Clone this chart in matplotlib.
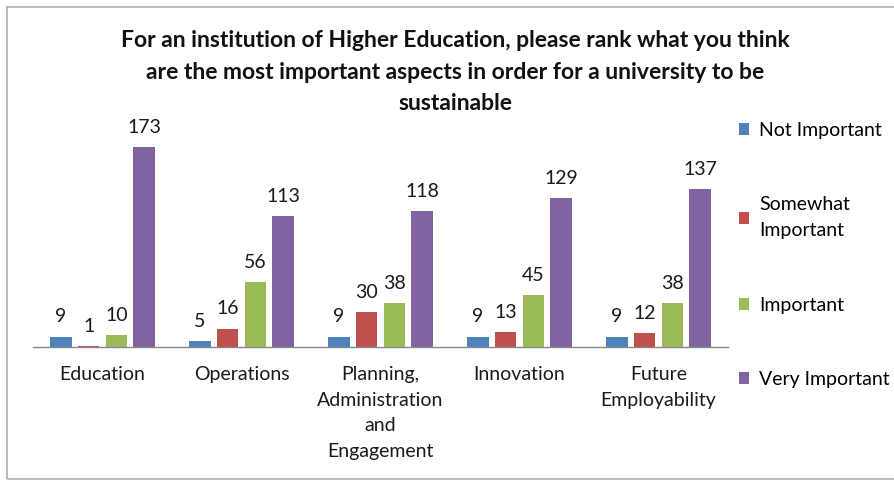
import numpy as np
import matplotlib
matplotlib.use("Agg")
import matplotlib.pyplot as plt
from matplotlib.patches import Patch, Rectangle

plt.rcParams['font.family'] = ['Lato', 'DejaVu Sans']

categories = ["Education", "Operations", "Planning,\nAdministration\nand\nEngagement",
              "Innovation", "Future\nEmployability"]
series_names = ["Not Important", "Somewhat\nImportant", "Important", "Very Important"]
not_important = [9, 5, 9, 9, 9]
somewhat_important = [1, 16, 30, 13, 12]
important = [10, 56, 38, 45, 38]
very_important = [173, 113, 118, 129, 137]
colors = ["#4F81BD", "#C0504D", "#9BBB59", "#8064A2"]

W, H = 895, 482
fig = plt.figure(figsize=(W / 100, H / 100), dpi=100)

# chart frame (gray border, right edge runs off the image)
fig.patches.append(Rectangle((7 / W, 3 / H), 1.0, 472 / H, transform=fig.transFigure,
                             fill=False, edgecolor="#b0b0b0", linewidth=1.2))

ax = fig.add_axes([33 / W, 1 - 347 / H, (728 - 33) / W, 231 / H])

x = np.arange(len(categories))
step = 0.2
width = 0.155
all_series = [not_important, somewhat_important, important, very_important]
for i, (vals, col) in enumerate(zip(all_series, colors)):
    pos = x + (i - 1.5) * step
    bars = ax.bar(pos, vals, width=width, color=col, label=series_names[i])
    for b, v in zip(bars, vals):
        ax.annotate(str(v), (b.get_x() + b.get_width() / 2, v),
                    xytext=(0, 8), textcoords="offset points",
                    ha="center", va="bottom", fontsize=14, color="#1a1a1a")

ax.set_xlim(-0.5, len(categories) - 0.5)
ax.set_ylim(0, 200)
ax.set_xticks(x)
ax.set_xticklabels(categories, fontsize=14, color="#1a1a1a", linespacing=1.6)
ax.tick_params(axis="x", length=0, pad=14)
ax.set_yticks([])
for s in ["top", "right", "left"]:
    ax.spines[s].set_visible(False)
ax.spines["bottom"].set_color("#888888")
ax.spines["bottom"].set_linewidth(1.0)

fig.text(455 / W, 1 - 30 / H,
         "For an institution of Higher Education, please rank what you think\n"
         "are the most important aspects in order for a university to be\n"
         "sustainable",
         ha="center", va="top", fontsize=16.5, fontweight="bold", color="#111111",
         linespacing=1.62)

handles = [Patch(facecolor=c, edgecolor="none") for c in colors]
leg = fig.legend(handles, series_names, loc="upper left",
                 bbox_to_anchor=(731 / W, 1 - 114 / H), frameon=False,
                 fontsize=14, labelspacing=2.95, handlelength=0.55, handleheight=0.55,
                 handletextpad=0.5, borderaxespad=0)
for t in leg.get_texts():
    t.set_linespacing(1.65)

fig.savefig("out.png", dpi=100)
